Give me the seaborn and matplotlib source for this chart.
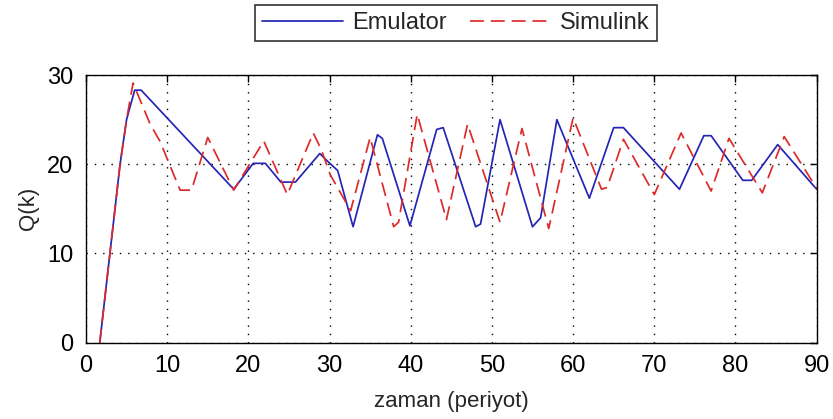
import matplotlib
matplotlib.use("Agg")
import matplotlib.pyplot as plt
import seaborn as sns
import pandas as pd

# Emulator response: polyline vertices (time in periods, Q(k))
emu_t = [1.7, 4.2, 5.0, 6.0, 6.8, 18.2, 20.6, 22.1, 24.0, 25.8, 28.8, 29.8,
         31.0, 32.9, 35.9, 36.5, 39.9, 43.2, 44.0, 48.0, 48.6, 51.0, 55.0,
         56.0, 58.0, 62.0, 65.0, 66.2, 73.1, 76.1, 77.0, 80.9, 82.0, 85.2, 90.0]
emu_q = [0.0, 20.0, 25.0, 28.3, 28.3, 17.2, 20.1, 20.1, 18.0, 18.0, 21.2, 20.3,
         19.3, 13.0, 23.3, 22.9, 13.1, 23.9, 24.1, 13.0, 13.3, 25.0, 13.0,
         14.0, 25.0, 16.2, 24.1, 24.1, 17.2, 23.2, 23.2, 18.2, 18.2, 22.2, 17.2]

# Simulink response: polyline vertices
sim_t = [1.7, 4.2, 5.0, 5.8, 7.9, 9.1, 11.6, 13.0, 15.0, 18.2, 21.9, 24.8,
         28.0, 29.0, 30.1, 32.6, 35.0, 37.9, 38.5, 40.8, 44.4, 47.0, 51.0,
         53.7, 57.0, 60.0, 63.5, 64.2, 66.2, 70.0, 73.3, 77.0, 79.2, 83.3,
         86.0, 90.0]
sim_q = [0.0, 20.0, 25.0, 29.1, 24.5, 22.6, 17.1, 17.1, 23.0, 17.1, 22.6, 16.6,
         23.5, 21.6, 18.8, 14.8, 23.0, 13.0, 13.5, 25.6, 13.8, 24.5, 13.5,
         24.0, 12.8, 25.2, 17.2, 17.4, 22.8, 16.6, 23.5, 17.0, 22.9, 16.8,
         23.1, 17.3]

x_ticks = [0, 10, 20, 30, 40, 50, 60, 70, 80, 90]
y_ticks = [0, 10, 20, 30]

sns.set_style("white")
plt.rcParams["font.family"] = ["Liberation Sans", "DejaVu Sans"]

fig = plt.figure(figsize=(8.33, 4.19), dpi=100)
ax = fig.add_axes([0.1032, 0.182, 0.8772, 0.639])

emu = pd.DataFrame({"t": emu_t, "Q": emu_q})
sim = pd.DataFrame({"t": sim_t, "Q": sim_q})

sns.lineplot(data=emu, x="t", y="Q", ax=ax, sort=False, color="#2525b5",
             linewidth=1.25, label="Emulator")
sns.lineplot(data=sim, x="t", y="Q", ax=ax, sort=False, color="#dd2a2a",
             linewidth=1.25, label="Simulink")
ax.lines[1].set_dashes([8, 4])

ax.set_xlim(0, 90)
ax.set_ylim(0, 30)
ax.set_xticks(x_ticks)
ax.set_yticks(y_ticks)
ax.set_xticklabels([str(v) for v in x_ticks])
ax.set_yticklabels([str(v) for v in y_ticks])
ax.tick_params(direction="in", length=5, width=1, top=True, right=True,
               labelsize=17, pad=9, colors="black")

ax.grid(True, linestyle=(0, (1, 5)), color="black", linewidth=1.0)
for s in ax.spines.values():
    s.set_visible(True)
    s.set_color("black")
    s.set_linewidth(1.0)

ax.set_xlabel("zaman (periyot)", fontsize=16, labelpad=10)
ax.set_ylabel("Q(k)", fontsize=16, labelpad=6)

leg = ax.legend(loc="center", bbox_to_anchor=(456 / 833, 1 - 23 / 419),
                bbox_transform=fig.transFigure, ncol=2, frameon=True,
                fancybox=False, edgecolor="black", fontsize=17,
                handlelength=3.4, columnspacing=1.0, handletextpad=0.4,
                borderpad=0.3)
leg.get_frame().set_linewidth(1.2)

fig.savefig("out.png", dpi=100)
